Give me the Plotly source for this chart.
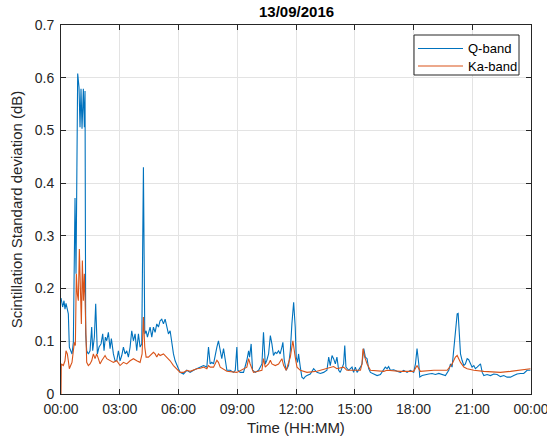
import plotly.graph_objects as go
import pandas as pd

# Time in hours after 00:00 on 13/09/2016, values in dB
q_hours = [0, 0.085, 0.153, 0.204, 0.256, 0.375, 0.426, 0.494, 0.562, 0.631, 0.665, 0.716, 0.767, 0.852,
           0.920, 0.971, 1.022, 1.074, 1.142, 1.193, 1.227, 1.261, 1.312, 1.397, 1.483, 1.568, 1.619, 1.704,
           1.772, 1.858, 1.943, 2.045, 2.130, 2.198, 2.267, 2.335, 2.420, 2.505, 2.573, 2.676, 2.761, 2.846,
           2.931, 3.016, 3.102, 3.187, 3.272, 3.357, 3.442, 3.528, 3.613, 3.698, 3.783, 3.868, 3.954, 4.039,
           4.124, 4.209, 4.277, 4.346, 4.414, 4.482, 4.550, 4.635, 4.720, 4.806, 4.891, 4.976, 5.061, 5.146,
           5.232, 5.317, 5.402, 5.487, 5.573, 5.658, 5.743, 5.828, 5.913, 5.999, 6.084, 6.254, 6.425, 6.595,
           6.766, 6.936, 7.106, 7.277, 7.447, 7.532, 7.618, 7.70, 7.79, 7.87, 7.96, 8.04, 8.13, 8.21, 8.30,
           8.38, 8.47, 8.64, 8.81, 8.90, 8.98, 9.03, 9.15, 9.32, 9.49, 9.58, 9.63, 9.71, 9.78, 9.92, 10.09,
           10.26, 10.34, 10.43, 10.51, 10.60, 10.69, 10.77, 10.85, 10.94, 11.02, 11.11, 11.19, 11.28, 11.33,
           11.40, 11.50, 11.62, 11.71, 11.79, 11.88, 11.96, 12.01, 12.08, 12.13, 12.22, 12.30, 12.39, 12.47,
           12.56, 12.73, 12.90, 13.07, 13.24, 13.41, 13.58, 13.67, 13.75, 13.84, 13.92, 14.01, 14.09, 14.18,
           14.26, 14.35, 14.43, 14.49, 14.55, 14.69, 14.86, 14.94, 15.03, 15.12, 15.20, 15.29, 15.37, 15.46,
           15.54, 15.63, 15.71, 15.80, 15.97, 16.14, 16.31, 16.48, 16.56, 16.65, 16.73, 16.82, 16.99, 17.16,
           17.33, 17.50, 17.67, 17.84, 18.01, 18.10, 18.18, 18.27, 18.32, 18.44, 18.61, 18.78, 18.95, 19.12,
           19.29, 19.46, 19.63, 19.80, 19.89, 19.97, 20.06, 20.14, 20.23, 20.28, 20.33, 20.40, 20.48, 20.57,
           20.65, 20.74, 20.82, 20.91, 20.99, 21.08, 21.16, 21.25, 21.34, 21.42, 21.51, 21.59, 21.76, 21.93,
           22.10, 22.27, 22.44, 22.61, 22.78, 22.95, 23.12, 23.29, 23.46, 23.63, 23.80, 23.97]
q_values = [0.182, 0.165, 0.177, 0.161, 0.172, 0.152, 0.089, 0.082, 0.076, 0.098, 0.228, 0.372, 0.228, 0.608,
            0.582, 0.506, 0.579, 0.503, 0.579, 0.506, 0.575, 0.114, 0.082, 0.076, 0.082, 0.127, 0.082, 0.108,
            0.171, 0.076, 0.089, 0.095, 0.114, 0.082, 0.108, 0.101, 0.117, 0.086, 0.105, 0.076, 0.063, 0.063,
            0.082, 0.063, 0.073, 0.089, 0.076, 0.082, 0.070, 0.089, 0.120, 0.101, 0.114, 0.082, 0.114, 0.089,
            0.095, 0.430, 0.114, 0.120, 0.108, 0.117, 0.127, 0.108, 0.127, 0.117, 0.133, 0.127, 0.139, 0.142,
            0.133, 0.142, 0.127, 0.114, 0.120, 0.095, 0.076, 0.063, 0.057, 0.048, 0.041, 0.038, 0.045, 0.041,
            0.045, 0.048, 0.051, 0.054, 0.051, 0.089, 0.057, 0.060, 0.057, 0.076, 0.089, 0.101, 0.082, 0.067, 0.086,
            0.070, 0.045, 0.045, 0.041, 0.045, 0.089, 0.045, 0.041, 0.041, 0.064, 0.082, 0.070, 0.095, 0.045, 0.041, 0.045,
            0.057, 0.117, 0.057, 0.064, 0.076, 0.111, 0.095, 0.073, 0.079, 0.077, 0.082, 0.076, 0.089, 0.098,
            0.064, 0.045, 0.054, 0.082, 0.133, 0.174, 0.127, 0.070, 0.060, 0.076, 0.051, 0.032, 0.029, 0.033,
            0.035, 0.038, 0.048, 0.041, 0.039, 0.041, 0.045, 0.070, 0.054, 0.073, 0.067, 0.057, 0.070, 0.045,
            0.041, 0.048, 0.057, 0.092, 0.051, 0.045, 0.051, 0.041, 0.051, 0.041, 0.045, 0.051, 0.057, 0.086,
            0.070, 0.067, 0.048, 0.041, 0.038, 0.035, 0.037, 0.045, 0.051, 0.048, 0.052, 0.045, 0.046, 0.043,
            0.041, 0.045, 0.041, 0.045, 0.041, 0.057, 0.086, 0.057, 0.032, 0.035, 0.037, 0.038, 0.039, 0.037,
            0.039, 0.037, 0.035, 0.045, 0.057, 0.051, 0.089, 0.120, 0.152, 0.153, 0.120, 0.076, 0.064, 0.054,
            0.057, 0.067, 0.065, 0.057, 0.051, 0.054, 0.048, 0.051, 0.054, 0.057, 0.041, 0.035, 0.037, 0.035,
            0.038, 0.037, 0.033, 0.035, 0.032, 0.032, 0.035, 0.038, 0.039, 0.039, 0.045, 0.045]

ka_hours = [0, 0.017, 0.119, 0.204, 0.256, 0.324, 0.375, 0.426, 0.494, 0.562, 0.631, 0.682, 0.733, 0.784,
            0.835, 0.886, 0.937, 0.988, 1.040, 1.091, 1.142, 1.193, 1.244, 1.312, 1.397, 1.483, 1.568, 1.653,
            1.738, 1.823, 1.909, 1.994, 2.079, 2.164, 2.250, 2.335, 2.505, 2.676, 2.846, 3.016, 3.187, 3.357,
            3.528, 3.698, 3.868, 4.039, 4.141, 4.209, 4.277, 4.346, 4.465, 4.550, 4.635, 4.720, 4.806, 4.891,
            4.976, 5.061, 5.232, 5.402, 5.573, 5.743, 5.913, 6.084, 6.254, 6.425, 6.595, 6.766, 6.936, 7.106,
            7.277, 7.447, 7.532, 7.618, 7.79, 7.96, 8.04, 8.13, 8.47, 8.98, 9.49, 9.58, 9.66, 9.83, 10.26,
            10.34, 10.43, 10.60, 10.69, 10.77, 10.94, 11.11, 11.28, 11.37, 11.50, 11.71, 11.84, 11.96, 12.05,
            12.22, 12.56, 13.07, 13.58, 13.75, 13.92, 14.09, 14.43, 14.60, 15.29, 15.37, 15.42, 15.51, 15.63,
            15.80, 16.48, 16.65, 17.33, 18.01, 18.18, 18.35, 19.04, 19.72, 19.97, 20.14, 20.23, 20.40, 20.57,
            20.74, 21.08, 21.59, 22.44, 22.95, 23.46, 23.97]
ka_values = [0.0, 0.057, 0.054, 0.063, 0.082, 0.076, 0.063, 0.048, 0.054, 0.060, 0.082, 0.098, 0.092, 0.228,
             0.190, 0.177, 0.275, 0.203, 0.133, 0.253, 0.177, 0.228, 0.133, 0.060, 0.054, 0.057, 0.063, 0.076,
             0.067, 0.076, 0.067, 0.057, 0.063, 0.067, 0.073, 0.067, 0.063, 0.060, 0.063, 0.054, 0.060, 0.057,
             0.063, 0.067, 0.063, 0.060, 0.076, 0.146, 0.089, 0.070, 0.070, 0.073, 0.076, 0.079, 0.076, 0.070,
             0.076, 0.073, 0.076, 0.070, 0.063, 0.054, 0.048, 0.041, 0.041, 0.045, 0.043, 0.046, 0.048, 0.049,
             0.051, 0.048, 0.054, 0.051, 0.051, 0.064, 0.060, 0.051, 0.043, 0.041, 0.051, 0.067, 0.057, 0.041, 0.045,
             0.067, 0.051, 0.057, 0.064, 0.057, 0.054, 0.057, 0.067, 0.054, 0.045, 0.070, 0.101, 0.070, 0.051,
             0.045, 0.041, 0.043, 0.048, 0.051, 0.052, 0.048, 0.051, 0.045, 0.045, 0.057, 0.086, 0.070, 0.057,
             0.045, 0.043, 0.045, 0.043, 0.043, 0.054, 0.043, 0.045, 0.045, 0.057, 0.070, 0.073, 0.060, 0.051,
             0.048, 0.045, 0.043, 0.041, 0.043, 0.046, 0.048]

series_names = ["Q-band", "Ka-band"]
series_colors = ["#0072BD", "#D95319"]

x_tick_times = ["2016-09-13 00:00", "2016-09-13 03:00", "2016-09-13 06:00", "2016-09-13 09:00",
                "2016-09-13 12:00", "2016-09-13 15:00", "2016-09-13 18:00", "2016-09-13 21:00",
                "2016-09-14 00:00"]
x_tick_labels = ["00:00", "03:00", "06:00", "09:00", "12:00", "15:00", "18:00", "21:00", "00:00"]

base = pd.Timestamp("2016-09-13 00:00:00")
def to_time(hours):
    return [(base + pd.Timedelta(hours=h)).strftime("%Y-%m-%d %H:%M:%S") for h in hours]

FONT = "Arial, Liberation Sans, Helvetica, sans-serif"
AX = "#262626"

# plot area in pixels (for the hand-made MATLAB-style legend box)
L, R, T, B = 61, 531, 25, 394
def px(xp):
    return (xp - L) / (R - L)
def py(yp):
    return (B - yp) / (B - T)

fig = go.Figure()
for hrs, vals, name, col in [(q_hours, q_values, series_names[0], series_colors[0]),
                             (ka_hours, ka_values, series_names[1], series_colors[1])]:
    fig.add_trace(go.Scatter(x=to_time(hrs), y=vals, mode="lines", name=name,
                             line=dict(color=col, width=1.1), showlegend=False))

shapes = [dict(type="rect", xref="paper", yref="paper", x0=px(414), x1=px(519), y0=py(75), y1=py(35),
               line=dict(color=AX, width=1), fillcolor="white", layer="above")]
annotations = [dict(text="<b>13/09/2016</b>", xref="paper", yref="paper", x=0.5, y=1,
                    yshift=14, xanchor="center", yanchor="middle", showarrow=False,
                    font=dict(size=15, color="black", family=FONT))]
for i, (name, col) in enumerate(zip(series_names, series_colors)):
    yy = 48.5 + i * 17.5
    shapes.append(dict(type="line", xref="paper", yref="paper", x0=px(418), x1=px(463),
                       y0=py(yy), y1=py(yy), line=dict(color=col, width=1.1), layer="above"))
    annotations.append(dict(text=name, xref="paper", yref="paper", x=px(465.5), y=py(yy),
                            xanchor="left", yanchor="middle", showarrow=False,
                            font=dict(size=13, color="black", family=FONT)))

fig.update_layout(
    width=547, height=443,
    margin=dict(l=L, r=547 - R, t=T, b=443 - B),
    paper_bgcolor="white", plot_bgcolor="white",
    font=dict(family=FONT, size=13, color=AX),
    showlegend=False,
    shapes=shapes,
    annotations=annotations,
)
fig.update_xaxes(
    type="date", automargin=False, ticklabeloverflow="allow",
    range=[x_tick_times[0], x_tick_times[-1]],
    tickmode="array", tickvals=x_tick_times, ticktext=x_tick_labels,
    ticks="inside", ticklen=5, tickcolor=AX, showline=True, linecolor=AX, linewidth=1,
    mirror="ticks", showgrid=True, gridcolor="#e3e3e3", gridwidth=1, zeroline=False,
    tickfont=dict(size=14, color=AX), ticklabelstandoff=2,
    title=dict(text="Time (HH:MM)", font=dict(size=15, color=AX), standoff=6),
)
fig.update_yaxes(
    automargin=False,
    range=[0, 0.7], dtick=0.1, tick0=0,
    ticks="inside", ticklen=5, tickcolor=AX, showline=True, linecolor=AX, linewidth=1,
    mirror="ticks", showgrid=True, gridcolor="#e3e3e3", gridwidth=1, zeroline=False,
    tickfont=dict(size=14, color=AX), ticklabelstandoff=3,
    title=dict(text="Scintillation Standard deviation (dB)", font=dict(size=15, color=AX), standoff=8),
)

fig.write_html("out.html", config={"displayModeBar": False},
               post_script="document.body.style.margin='0';document.body.style.overflow='hidden';")
